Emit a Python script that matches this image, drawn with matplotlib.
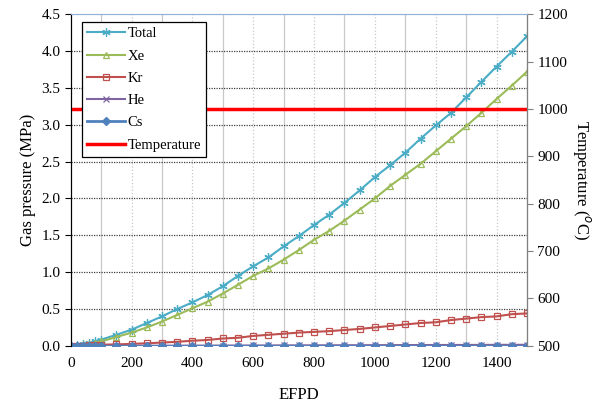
import matplotlib
matplotlib.use("Agg")
import matplotlib.pyplot as plt

plt.rcParams["font.family"] = ["Liberation Serif", "DejaVu Serif"]

# EFPD sample points
efpd = [0, 20, 40, 60, 80, 100] + list(range(150, 1501, 50))

total = [0.0, 0.01, 0.025, 0.04, 0.06, 0.085,
         0.15, 0.22, 0.31, 0.40, 0.50, 0.59, 0.69, 0.81, 0.95, 1.08,
         1.20, 1.35, 1.49, 1.64, 1.78, 1.94, 2.11, 2.29, 2.45, 2.62,
         2.81, 2.99, 3.16, 3.37, 3.58, 3.79, 3.99, 4.20]
xe = [0.0, 0.008, 0.02, 0.03, 0.045, 0.06,
      0.12, 0.18, 0.25, 0.33, 0.42, 0.51, 0.60, 0.71, 0.83, 0.95,
      1.05, 1.17, 1.30, 1.44, 1.56, 1.70, 1.85, 2.00, 2.17, 2.32,
      2.47, 2.64, 2.81, 2.98, 3.16, 3.35, 3.53, 3.72]
kr = [0.0, 0.002, 0.005, 0.008, 0.012, 0.016,
      0.02, 0.027, 0.035, 0.045, 0.055, 0.07, 0.08, 0.10, 0.11, 0.135,
      0.15, 0.165, 0.18, 0.19, 0.20, 0.215, 0.23, 0.25, 0.27, 0.29,
      0.31, 0.32, 0.35, 0.37, 0.39, 0.40, 0.43, 0.44]
he = [0.0, 0.0, 0.0, 0.0, 0.001, 0.001,
      0.001, 0.002, 0.002, 0.003, 0.003, 0.004, 0.004, 0.005, 0.005, 0.006,
      0.006, 0.007, 0.007, 0.008, 0.008, 0.009, 0.009, 0.010, 0.010, 0.011,
      0.011, 0.012, 0.012, 0.013, 0.013, 0.014, 0.014, 0.015]
cs = [0.0] * len(efpd)

temp_x = [0, 1500]
temp_y = [1000, 1000]

fig = plt.figure(figsize=(6.05, 4.05), dpi=100)
ax = fig.add_axes([0.117, 0.146, 0.754, 0.819])
ax2 = ax.twinx()

# grid
for xv in range(100, 1500, 100):
    ax.axvline(xv, color="#c8c8c8", lw=0.9, ls="-" if xv % 200 else ":", zorder=0)
for yv in [0.5, 1.0, 1.5, 2.0, 2.5, 3.0, 3.5, 4.0]:
    ax.axhline(yv, color="#404040", lw=0.9, ls=(0, (1, 1)), zorder=0)

h_tot, = ax.plot(efpd, total, color="#4BACC6", lw=1.5, marker=(6, 2, 0), ms=6,
                 mew=0.9, label="Total")
h_xe, = ax.plot(efpd, xe, color="#9BBB59", lw=1.5, marker="^", ms=5,
                mfc="none", mew=0.9, label="Xe")
h_kr, = ax.plot(efpd, kr, color="#C0504D", lw=1.5, marker="s", ms=5,
                mfc="none", mew=0.9, label="Kr")
h_he, = ax.plot(efpd, he, color="#8064A2", lw=1.5, marker="x", ms=5,
                mew=0.9, label="He")
h_cs, = ax.plot(efpd, cs, color="#4F81BD", lw=2.0, marker="D", ms=4.5,
                label="Cs")
h_t, = ax2.plot(temp_x, temp_y, color="#FF0000", lw=2.5, label="Temperature")

ax.set_xlim(0, 1500)
ax.set_ylim(0, 4.5)
ax.set_xticks(range(0, 1501, 200))
ax.set_yticks([i * 0.5 for i in range(10)])
ax.set_yticklabels([f"{i * 0.5:.1f}" for i in range(10)])
ax.tick_params(axis="x", length=0, labelsize=11, pad=8)
ax.tick_params(axis="y", direction="out", length=4, labelsize=11)
ax.set_xlabel("EFPD", fontsize=12, labelpad=12)
ax.set_ylabel("Gas pressure (MPa)", fontsize=12)

ax2.set_ylim(500, 1200)
ax2.set_yticks(range(500, 1201, 100))
ax2.tick_params(axis="y", direction="out", length=4, labelsize=11, color="#808080")
ax2.set_ylabel("Temperature ($^{o}$C)", fontsize=12, rotation=270, labelpad=18)

for a in (ax, ax2):
    a.spines["top"].set_color("#95B3D7")
    a.spines["bottom"].set_visible(False)
ax2.spines["right"].set_color("#808080")
ax2.spines["left"].set_color("black")

leg = ax2.legend(handles=[h_tot, h_xe, h_kr, h_he, h_cs, h_t],
                 loc="upper left", bbox_to_anchor=(0.024, 0.976),
                 borderaxespad=0, fontsize=10.5, handlelength=2.6,
                 handletextpad=0.2, labelspacing=0.62, borderpad=0.35,
                 fancybox=False, framealpha=1, edgecolor="black")
leg.get_frame().set_linewidth(0.9)

fig.savefig("out.png", dpi=100)
